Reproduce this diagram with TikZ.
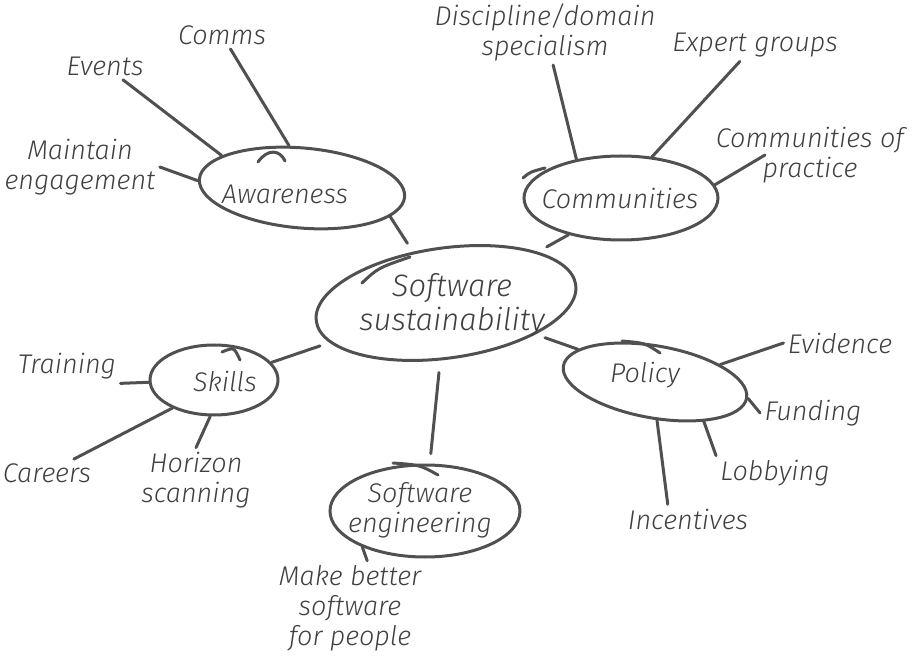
\documentclass[tikz,border=0pt]{standalone}
\usepackage{fontspec}
\IfFontExistsTF{Fira Sans Light}{\setmainfont{Fira Sans Light}}{\setmainfont{Fira Sans}}
\usepackage{tikz}
\usetikzlibrary{shapes.geometric}

\definecolor{pencil}{HTML}{505050}
\definecolor{ink}{HTML}{404040}

\begin{document}
\begin{tikzpicture}[x=0.5pt,y=-0.5pt]
        \tikzstyle{bubble}=[ellipse, draw=pencil, line width=1.5pt, inner sep=0pt]
        \tikzstyle{word}=[text=ink, align=center, inner sep=2pt, font=\fontsize{13.5}{15}\selectfont\itshape]
        \tikzstyle{twig}=[draw=pencil, line width=1.5pt, line cap=round]

        \useasboundingbox (0,0) rectangle (915,657);

            % the bubbles
            \node[bubble, minimum width=131pt, minimum height=55pt, rotate=8](core) at (446,303){};
            \node[bubble, minimum width=103pt, minimum height=40pt, rotate=-5](aware) at (302,188){};
            \node[bubble, minimum width=97pt, minimum height=42pt](comm) at (621,198){};
            \node[bubble, minimum width=64pt, minimum height=35pt](skills) at (214,380){};
            \node[bubble, minimum width=95pt, minimum height=46pt](sweng) at (425,511){};
            \node[bubble, minimum width=93pt, minimum height=36pt, rotate=-10](policy) at (655,382){};

            % where the pencil went round twice
            \draw[twig] (362,283) .. controls (378,268) .. (410,257);
            \draw[twig] (258,162) .. controls (268,148) and (280,150) .. (285,161);
            \draw[twig] (523,178) .. controls (530,172) .. (545,168);
            \draw[twig] (222,352) .. controls (234,347) .. (240,360);
            \draw[twig] (393,463) .. controls (420,465) .. (438,475);
            \draw[twig] (622,341) .. controls (645,343) .. (660,353);

            \node[word, font=\fontsize{15.5}{17}\selectfont\itshape](coretext) at (452,305){Software\\sustainability};
            \node[word](awaretext) at (285,194){Awareness};
            \node[word](commtext) at (620,198){Communities};
            \node[word](skillstext) at (225,381){Skills};
            \node[word](swengtext) at (420,510){Software\\engineering};
            \node[word](policytext) at (645,375){Policy};

            % the leaves
            \node[word](comms) at (222,35){Comms};
            \node[word](events) at (105,66){Events};
            \node[word](maintain) at (80,167){Maintain\\engagement};
            \node[word](discipline) at (545,32){Discipline/domain\\specialism};
            \node[word](expert) at (755,45){Expert groups};
            \node[word](cop) at (810,155){Communities of\\practice};
            \coordinate (copend) at (765,155);
            \node[word](training) at (67,366){Training};
            \node[word](careers) at (47,473){Careers};
            \node[word](horizon) at (196,480){Horizon\\scanning};
            \node[word](better) at (350,608){Make better\\software\\for people};
            \node[word](evidence) at (840,343){Evidence};
            \node[word](funding) at (813,413){Funding};
            \node[word](lobbying) at (775,473){Lobbying};
            \node[word](incentives) at (688,519){Incentives};

            \foreach \from/\to in {aware.112/comms,aware.163/events,aware.181/maintain.east}
            \draw[twig] (\from) -- (\to);

            \foreach \from/\to in {comm.139/discipline,comm.53/expert,comm.8/copend}
            \draw[twig] (\from) -- (\to);

            \foreach \from/\to in {skills.182/training.south east,skills.-146/careers,skills.-96/horizon.north}
            \draw[twig] (\from) -- (\to);

            \foreach \from/\to in {sweng.-150/better.70}
            \draw[twig] (\from) -- (\to);

            \foreach \from/\to in {policy.25/evidence.west,policy.0/funding.west,policy.-29/lobbying.north west,policy.-77/incentives.144}
            \draw[twig] (\from) -- (\to);

            \foreach \from/\to in {aware.-13/core,comm.-145/core,skills.17/core,policy.167/core}
            \draw[twig, shorten >=5pt] (\from) -- (\to);

            \draw[twig, shorten <=5pt, shorten >=6pt] (sweng) -- (core);

        \end{tikzpicture}
\end{document}
